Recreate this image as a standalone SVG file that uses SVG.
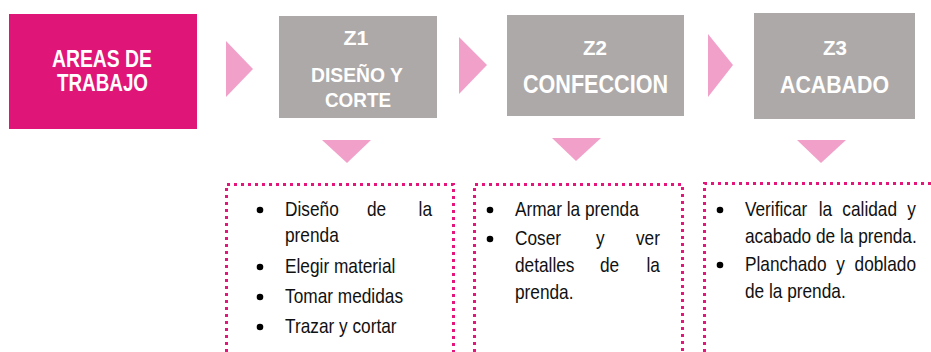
<svg xmlns="http://www.w3.org/2000/svg" width="931" height="352" viewBox="0 0 931 352">
<style>
.hd{font-family:"Liberation Sans",Arial,sans-serif;font-weight:bold;fill:#ffffff;text-anchor:middle}
.bd{font-family:"Liberation Sans",Arial,sans-serif;font-size:20.5px;fill:#111111}
.end{text-anchor:end}
.arrow{fill:#F1A1C9}
.dots{fill:none;stroke:#E4157B;stroke-width:3;stroke-dasharray:3 4}
.bul{fill:#000000}
</style>
<rect width="931" height="352" fill="#ffffff"/>
<g id="areas">
<rect x="9" y="14" width="188" height="115" fill="#DF1677"/>
<text class="hd" x="102" y="67" font-size="23" textLength="100" lengthAdjust="spacingAndGlyphs">AREAS DE</text>
<text class="hd" x="102.5" y="91" font-size="23" textLength="91" lengthAdjust="spacingAndGlyphs">TRABAJO</text>
</g>
<g id="z1">
<rect x="279" y="16" width="158" height="102" fill="#ADA9A8"/>
<text class="hd" x="356" y="45" font-size="20" textLength="25" lengthAdjust="spacingAndGlyphs">Z1</text>
<text class="hd" x="357" y="82" font-size="21" textLength="92" lengthAdjust="spacingAndGlyphs">DISEÑO Y</text>
<text class="hd" x="358" y="107" font-size="21" textLength="66" lengthAdjust="spacingAndGlyphs">CORTE</text>
</g>
<g id="z2">
<rect x="507" y="15" width="177" height="101" fill="#ADA9A8"/>
<text class="hd" x="595" y="55" font-size="21" textLength="24" lengthAdjust="spacingAndGlyphs">Z2</text>
<text class="hd" x="595.5" y="93" font-size="25" textLength="145" lengthAdjust="spacingAndGlyphs">CONFECCION</text>
</g>
<g id="z3">
<rect x="754" y="13" width="161" height="106" fill="#ADA9A8"/>
<text class="hd" x="835" y="55" font-size="21" textLength="24" lengthAdjust="spacingAndGlyphs">Z3</text>
<text class="hd" x="834.5" y="93" font-size="24" textLength="109" lengthAdjust="spacingAndGlyphs">ACABADO</text>
</g>
<g id="connectors">
<polygon class="arrow" points="226,41 253,69 226,97"/>
<polygon class="arrow" points="459,37 487,65 459,94"/>
<polygon class="arrow" points="708,34 733,65 708,97"/>
<polygon class="arrow" points="322,140 371,140 347,163"/>
<polygon class="arrow" points="552,138 601,138 576,161"/>
<polygon class="arrow" points="797,140 846,140 821,163"/>
</g>
<g id="list1">
<path class="dots" d="M226.5 352 V184.5 H453.5 V352"/>
<circle class="bul" cx="260" cy="210" r="3.3"/>
<circle class="bul" cx="260" cy="267" r="3.3"/>
<circle class="bul" cx="260" cy="297" r="3.3"/>
<circle class="bul" cx="260" cy="327" r="3.3"/>
<g transform="scale(0.843,1)">
<text class="bd" y="216"><tspan x="338.1">Diseño</tspan><tspan x="435.3">de</tspan><tspan class="end" x="512.5">la</tspan></text>
<text class="bd" x="338.1" y="242">prenda</text>
<text class="bd" x="338.1" y="273">Elegir material</text>
<text class="bd" x="338.1" y="303">Tomar medidas</text>
<text class="bd" x="338.1" y="333">Trazar y cortar</text>
</g>
</g>
<g id="list2">
<path class="dots" d="M474.5 352 V184.5 H682.5 V352"/>
<circle class="bul" cx="490" cy="210" r="3.3"/>
<circle class="bul" cx="490" cy="239" r="3.3"/>
<g transform="scale(0.843,1)">
<text class="bd" x="610.9" y="216">Armar la prenda</text>
<text class="bd" y="245"><tspan x="610.9">Coser</tspan><tspan x="707.0">y</tspan><tspan class="end" x="782.9">ver</tspan></text>
<text class="bd" y="272"><tspan x="610.9">detalles</tspan><tspan x="711.7">de</tspan><tspan class="end" x="782.9">la</tspan></text>
<text class="bd" x="610.9" y="299">prenda.</text>
</g>
</g>
<g id="list3">
<path class="dots" d="M704.5 352 V183.5 H931"/>
<circle class="bul" cx="720" cy="210" r="3.3"/>
<circle class="bul" cx="720" cy="265" r="3.3"/>
<g transform="scale(0.843,1)">
<text class="bd" y="216"><tspan x="883.7">Verificar</tspan><tspan x="971.1">la</tspan><tspan x="999.2">calidad</tspan><tspan class="end" x="1086.6">y</tspan></text>
<text class="bd" x="883.7" y="243">acabado de la prenda.</text>
<text class="bd" y="271"><tspan x="883.7">Planchado</tspan><tspan x="992.1">y</tspan><tspan class="end" x="1086.6">doblado</tspan></text>
<text class="bd" x="883.7" y="298">de la prenda.</text>
</g>
</g>
</svg>
